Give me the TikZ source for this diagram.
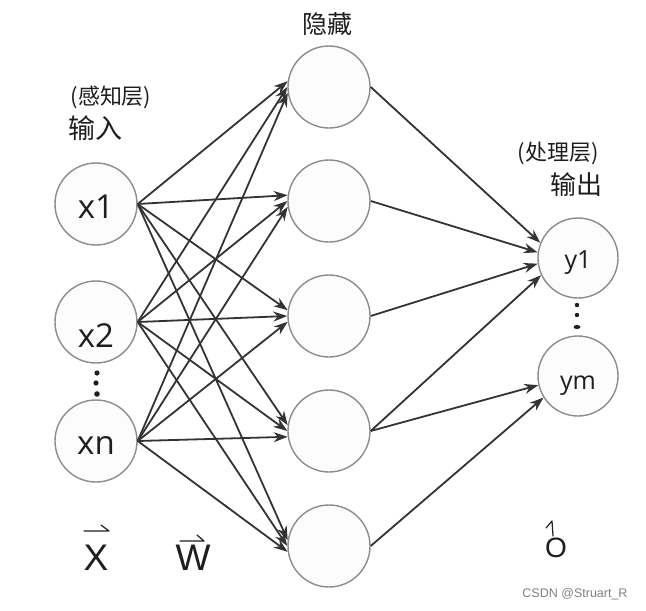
\documentclass[tikz,border=0pt]{standalone}
\usepackage{fontspec}
\setmainfont{Open Sans}
\newfontfamily\cjk{Noto Sans CJK SC}
\newfontfamily\arial{Liberation Sans}
\usetikzlibrary{arrows.meta}
\definecolor{edgec}{HTML}{333333}
\definecolor{ringc}{HTML}{8C8C8C}
\definecolor{fillc}{HTML}{FCFCFC}
\definecolor{txtc}{HTML}{1E1E1E}
\begin{document}
\begin{tikzpicture}[x=1pt,y=-1pt,
  neuron/.style={circle,draw=ringc,line width=1.4pt,fill=fillc,minimum size=82pt,inner sep=0pt},
  outn/.style={neuron,minimum size=80pt},
  conn/.style={draw=edgec,line width=1.8pt,-{Stealth[length=14pt,width=10pt]}},
  lbl/.style={text=txtc,inner sep=0pt},
  cjklbl/.style={text=txtc,inner sep=0pt,font=\cjk},
  vecbar/.style={draw=txtc,line width=1.2pt,line cap=round,line join=round},
  dotc/.style={fill=txtc}]
\useasboundingbox (0,0) rectangle (646,611);

% input neurons
\node[neuron] (x1) at (96,204) {};
\node[neuron] (x2) at (96,322) {};
\node[neuron] (xn) at (96,441) {};
\node[lbl,font=\fontsize{33}{36}\selectfont] (x1t) at (96,207) {x1};
\node[lbl,font=\fontsize{33}{36}\selectfont] (x2t) at (96,336) {x2};
\node[lbl,font=\fontsize{33}{36}\selectfont] (xnt) at (96,446) {xn};

% hidden neurons
\foreach \n/\yy in {h1/87,h2/201,h3/316,h4/431,h5/546}
  \node[neuron] (\n) at (329,\yy) {};

% output neurons
\node[outn] (y1) at (578,258) {};
\node[outn] (ym) at (578,376) {};
\node[lbl,font=\fontsize{25}{27}\selectfont] (y1t) at (578,263) {y1};
\node[lbl,font=\fontsize{25}{27}\selectfont] (ymt) at (578,386) {ym};

% connectors input -> hidden
\foreach \s/\a in {x1/172,x2/180,xn/188}
  \foreach \h in {h1,h2,h3,h4,h5}
    \draw[conn] (\s.east) -- (\h.\a);

% connectors hidden -> output
\draw[conn] (h1.east) -- (y1.158);
\draw[conn] (h2.east) -- (y1.172);
\draw[conn] (h3.east) -- (y1.188);
\draw[conn] (h4.east) -- (y1.205);
\draw[conn] (h4.east) -- (ym.193);
\draw[conn] (h5.east) -- (ym.212);

% vertical dots
\fill[dotc] (97,373) circle (2.6pt);
\fill[dotc] (96,383) circle (2.6pt);
\fill[dotc] (97,394) circle (2.8pt);
\fill[dotc] (577,305) circle (2.2pt);
\fill[dotc] (577,315) circle (2.2pt);
\fill[dotc] (577,327) ellipse (3.5pt and 2pt);

% layer labels
\node[cjklbl,font=\cjk\fontsize{22}{24}\selectfont] (lin1) at (111,97) {(感知层)};
\node[cjklbl,font=\cjk\fontsize{27}{29}\selectfont] (lin2) at (95,128) {输入};
\node[cjklbl,font=\cjk\fontsize{25}{28}\selectfont] (lhid) at (327,24) {隐藏};
\node[cjklbl,font=\cjk\fontsize{22}{24}\selectfont] (lout1) at (558,153) {(处理层)};
\node[cjklbl,font=\cjk\fontsize{26}{28}\selectfont] (lout2) at (576,185) {输出};

% vector symbols
\node[lbl,font=\arial\fontsize{37}{40}\selectfont] (vx) at (96,558) {X};
\draw[vecbar] (84,531) -- (109,531) -- (101,525);
\node[lbl,font=\arial\fontsize{37}{40}\selectfont] (vw) at (193,558) {W};
\draw[vecbar] (180,541) -- (204,541) -- (197,535);
\node[lbl,font=\arial\fontsize{28}{30}\selectfont] (vo) at (556,548) {O};
\draw[vecbar] (553,536) -- (552,521) -- (546,528);

% watermark
\node[inner sep=0pt,text=gray,font=\arial\fontsize{12.5}{14}\selectfont] (wm) at (575,594) {CSDN @Struart\_R};
\end{tikzpicture}
\end{document}
